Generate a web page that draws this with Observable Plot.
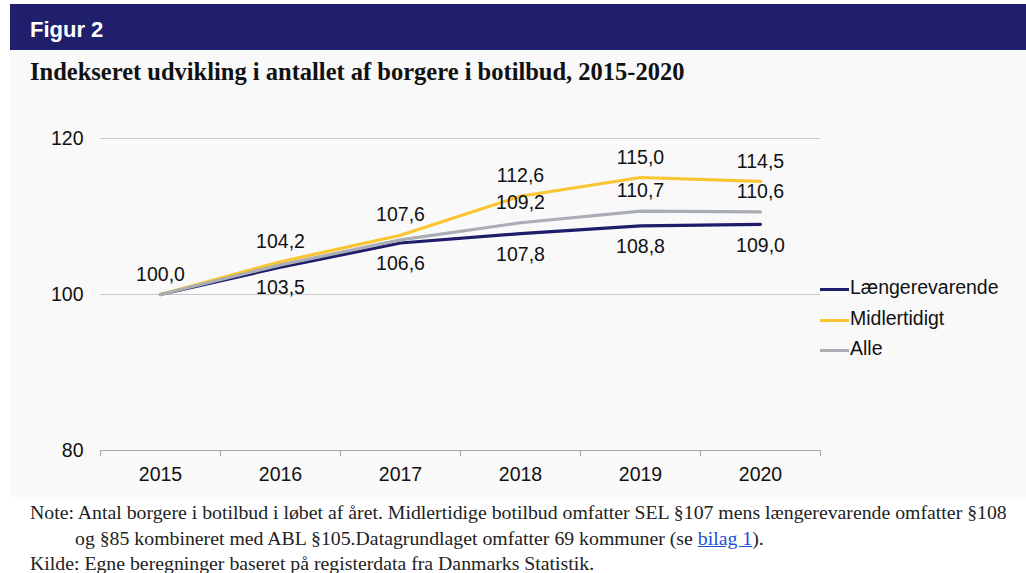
<!DOCTYPE html>
<html>
<head>
<meta charset="utf-8">
<script src="https://cdn.jsdelivr.net/npm/d3@7"></script>
<script src="https://cdn.jsdelivr.net/npm/@observablehq/plot@0.6"></script>
<style>
  html, body { margin: 0; padding: 0; background: #ffffff; width: 1026px; height: 573px; overflow: hidden; }
  #panel { position: absolute; left: 10px; top: 4px; width: 1016px; height: 493px; background: #f9f9f9; }
  #header { position: absolute; left: 0; top: 0; width: 1016px; height: 46px; background: #201f6b; }
  #header span { position: absolute; left: 20px; top: 13px; color: #fff; font: bold 22px "Liberation Sans", Arial, sans-serif; }
  #title { position: absolute; left: 20px; top: 54px; font: bold 24.5px "Liberation Serif", "Times New Roman", serif; color: #111; white-space: nowrap; }
  #chart { position: absolute; left: 0; top: 96px; }
  #legend { position: absolute; left: 810px; top: 272px; font: 19.5px "Liberation Sans", Arial, sans-serif; color: #111; }
  .li { position: relative; height: 30.5px; white-space: nowrap; }
  .li i { position: absolute; left: 0; top: 12px; width: 29px; height: 3px; }
  .li span { position: absolute; left: 30px; top: 0; }
  #notes { position: absolute; left: 30px; top: 500px; font: 19.8px "Liberation Serif", "Times New Roman", serif; color: #222; white-space: nowrap; line-height: 25.5px; }
  #notes a { color: #1a4fd6; text-decoration: underline; }
</style>
</head>
<body>
<div id="panel">
  <div id="header"><span>Figur 2</span></div>
  <div id="title">Indekseret udvikling i antallet af borgere i botilbud, 2015-2020</div>
  <div id="chart"></div>
  <div id="legend"></div>
</div>
<div id="notes">
  <div>Note: Antal borgere i botilbud i løbet af året. Midlertidige botilbud omfatter SEL §107 mens længerevarende omfatter §108</div>
  <div style="padding-left:45px">og §85 kombineret med ABL §105.Datagrundlaget omfatter 69 kommuner (se <a>bilag 1</a>).</div>
  <div>Kilde: Egne beregninger baseret på registerdata fra Danmarks Statistik.</div>
</div>
<script>
const years = [2015, 2016, 2017, 2018, 2019, 2020];
const laengerevarende = [100.0, 103.5, 106.6, 107.8, 108.8, 109.0];
const midlertidigt = [100.0, 104.2, 107.6, 112.6, 115.0, 114.5];
const alle = [100.0, 103.8, 107.0, 109.2, 110.7, 110.6];
const yTicks = [80, 100, 120];
const seriesNames = ["Længerevarende", "Midlertidigt", "Alle"];
const seriesColors = ["#1f1d6b", "#f9c531", "#a9aeb5"];

const rows = (name, vals) => years.map((y, i) => ({year: y, value: vals[i], series: name}));
const dataL = rows(seriesNames[0], laengerevarende);
const dataM = rows(seriesNames[1], midlertidigt);
const dataA = rows(seriesNames[2], alle);
const fmt = v => v.toFixed(1).replace(".", ",");
const bounds = [years[0] - 0.5, ...years.map(y => y + 0.5)];

const font = '"Liberation Sans", Arial, sans-serif';
const chart = Plot.plot({
  width: 1016,
  height: 390,
  marginLeft: 90,
  marginRight: 206,
  marginTop: 38,
  marginBottom: 40,
  style: {background: "transparent", fontFamily: font, fontSize: "19.5px", color: "#111", overflow: "visible"},
  x: {type: "linear", domain: [years[0] - 0.5, years[years.length - 1] + 0.5]},
  y: {domain: [80, 120]},
  marks: [
    Plot.ruleY(yTicks.slice(1), {stroke: "#c9c9c9", strokeWidth: 1.2}),
    Plot.ruleY([80], {stroke: "#a8a8a8", strokeWidth: 1.2}),
    Plot.axisY({ticks: yTicks, tickSize: 0, tickPadding: 17, tickFormat: d => String(d), label: null, fontSize: 19.5}),
    Plot.axisX({ticks: bounds, tickSize: 6, tickFormat: () => "", stroke: "#a8a8a8", label: null}),
    Plot.axisX({ticks: years, tickSize: 0, tickPadding: 17, tickFormat: d => String(d), label: null, fontSize: 19.5}),
    Plot.line(dataL, {x: "year", y: "value", stroke: seriesColors[0], strokeWidth: 3.2}),
    Plot.line(dataM, {x: "year", y: "value", stroke: seriesColors[1], strokeWidth: 3.2}),
    Plot.line(dataA, {x: "year", y: "value", stroke: seriesColors[2], strokeWidth: 3.2}),
    Plot.text(dataM, {x: "year", y: "value", text: d => fmt(d.value), dy: -20, fill: "#111", fontSize: 19.5}),
    Plot.text(dataL.slice(1), {x: "year", y: "value", text: d => fmt(d.value), dy: 21, fill: "#111", fontSize: 19.5}),
    Plot.text(dataA.slice(3), {x: "year", y: "value", text: d => fmt(d.value), dy: -20, fill: "#111", fontSize: 19.5})
  ]
});
document.getElementById("chart").appendChild(chart);

const legend = document.getElementById("legend");
seriesNames.forEach((n, i) => {
  const d = document.createElement("div");
  d.className = "li";
  d.innerHTML = `<i style="background:${seriesColors[i]}"></i><span>${n}</span>`;
  legend.appendChild(d);
});
</script>
</body>
</html>
